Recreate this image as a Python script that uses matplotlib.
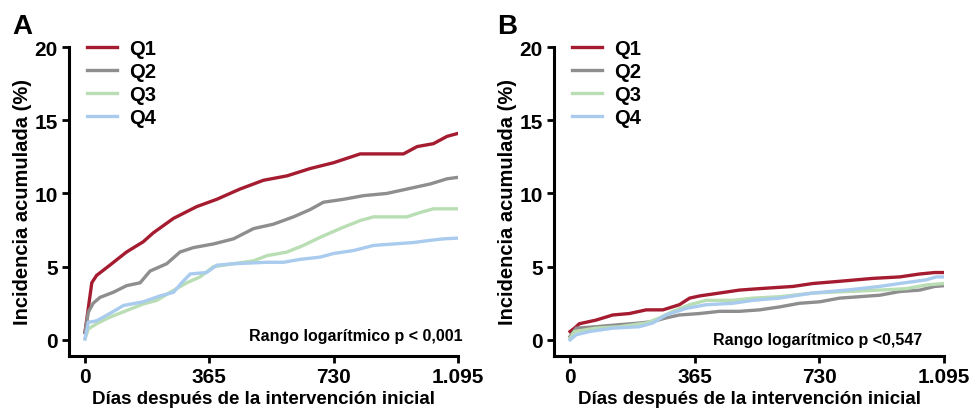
import matplotlib.pyplot as plt

plt.rcParams['font.family'] = ['Liberation Sans', 'DejaVu Sans']
plt.rcParams['font.weight'] = 'bold'

# =========================
# DATA
# =========================
groups = ["Q1", "Q2", "Q3", "Q4"]
colors = ["#a51c30", "#8e8e8e", "#b9deb4", "#a9cbee"]
xticks = [0, 365, 730, 1095]
xticklabels = ["0", "365", "730", "1.095"]
yticks = [0, 5, 10, 15, 20]

# Panel A
a_q1_days = [0, 20, 34, 73, 122, 171, 200, 260, 328, 387, 455, 524, 593, 661, 730, 808, 935, 975, 1023, 1063, 1095]
a_q1_vals = [0.5, 3.9, 4.4, 5.1, 6.0, 6.7, 7.3, 8.3, 9.1, 9.6, 10.3, 10.9, 11.2, 11.7, 12.1, 12.7, 12.7, 13.2, 13.4, 13.9, 14.1]
a_q2_days = [0, 10, 24, 44, 83, 122, 162, 191, 240, 279, 318, 377, 436, 495, 553, 612, 661, 700, 759, 818, 886, 945, 1014, 1063, 1095]
a_q2_vals = [0.5, 1.9, 2.5, 2.9, 3.25, 3.7, 3.9, 4.7, 5.2, 6.0, 6.3, 6.55, 6.9, 7.6, 7.9, 8.4, 8.9, 9.4, 9.6, 9.85, 10.0, 10.3, 10.65, 11.0, 11.1]
a_q3_days = [0, 10, 34, 73, 122, 171, 211, 250, 299, 338, 377, 436, 495, 534, 593, 641, 690, 749, 808, 847, 945, 984, 1023, 1095]
a_q3_vals = [0.07, 0.75, 1.1, 1.55, 2.0, 2.45, 2.7, 3.25, 3.9, 4.3, 5.0, 5.2, 5.4, 5.75, 6.0, 6.45, 7.0, 7.6, 8.15, 8.4, 8.4, 8.7, 8.95, 8.95]
a_q4_days = [0, 10, 34, 73, 113, 171, 220, 260, 284, 309, 357, 387, 436, 534, 583, 632, 690, 730, 788, 847, 906, 965, 1014, 1053, 1095]
a_q4_vals = [0.07, 1.2, 1.3, 1.8, 2.35, 2.6, 3.0, 3.25, 3.9, 4.5, 4.6, 5.1, 5.2, 5.3, 5.3, 5.5, 5.65, 5.9, 6.1, 6.45, 6.55, 6.65, 6.8, 6.9, 6.95]

# Panel B
b_q1_days = [0, 13, 27, 76, 125, 174, 223, 272, 320, 350, 379, 438, 496, 555, 653, 711, 789, 887, 965, 1024, 1068, 1095]
b_q1_vals = [0.57, 0.8, 1.1, 1.35, 1.7, 1.8, 2.05, 2.05, 2.4, 2.85, 3.0, 3.2, 3.4, 3.5, 3.65, 3.85, 4.0, 4.2, 4.3, 4.5, 4.6, 4.6]
b_q2_days = [0, 18, 76, 125, 203, 242, 281, 320, 379, 438, 496, 555, 613, 672, 731, 789, 848, 907, 965, 1024, 1068, 1095]
b_q2_vals = [0.23, 0.8, 0.9, 1.0, 1.15, 1.25, 1.5, 1.7, 1.8, 1.95, 1.95, 2.05, 2.25, 2.5, 2.6, 2.85, 2.95, 3.05, 3.3, 3.4, 3.65, 3.7]
b_q3_days = [0, 13, 76, 145, 223, 262, 301, 350, 399, 477, 535, 613, 711, 809, 907, 985, 1043, 1095]
b_q3_vals = [0.1, 0.57, 0.8, 0.9, 1.15, 1.5, 1.95, 2.4, 2.7, 2.7, 2.85, 2.95, 3.2, 3.3, 3.4, 3.5, 3.75, 3.85]
b_q4_days = [0, 18, 57, 125, 203, 242, 281, 340, 399, 477, 535, 613, 711, 809, 907, 965, 1043, 1072, 1095]
b_q4_vals = [0.0, 0.35, 0.57, 0.8, 0.9, 1.15, 1.7, 2.15, 2.4, 2.5, 2.7, 2.85, 3.2, 3.4, 3.65, 3.85, 4.1, 4.3, 4.3]

panels = [
    ("A", [(a_q1_days, a_q1_vals), (a_q2_days, a_q2_vals), (a_q3_days, a_q3_vals), (a_q4_days, a_q4_vals)],
     "Rango logarítmico p < 0,001", (1110, 0.3)),
    ("B", [(b_q1_days, b_q1_vals), (b_q2_days, b_q2_vals), (b_q3_days, b_q3_vals), (b_q4_days, b_q4_vals)],
     "Rango logarítmico p <0,547", (1030, 0.0)),
]

# =========================
# FIGURE
# =========================
fig = plt.figure(figsize=(9.74, 4.10), dpi=100)
ax_rects = [[0.0708, 0.1293, 0.3994, 0.7536], [0.5688, 0.1293, 0.4004, 0.7536]]

for rect, (letter, series, ptext, ppos) in zip(ax_rects, panels):
    ax = fig.add_axes(rect)
    for name, col, (d, v) in zip(groups, colors, series):
        ax.plot(d, v, color=col, linewidth=2.4, label=name, solid_joinstyle='miter')

    ax.set_xlim(-47, 1095)
    ax.set_ylim(-1.1, 20)
    ax.set_xticks(xticks)
    ax.set_xticklabels(xticklabels)
    ax.set_yticks(yticks)
    ax.spines['top'].set_visible(False)
    ax.spines['right'].set_visible(False)
    for s in ['left', 'bottom']:
        ax.spines[s].set_linewidth(2.2)
    ax.tick_params(width=2.0, length=5, labelsize=15, pad=3)
    for lab in ax.get_xticklabels() + ax.get_yticklabels():
        lab.set_fontweight('bold')

    ax.set_xlabel("Días después de la intervención inicial", fontsize=13.5, fontweight='bold', labelpad=3)
    ax.set_ylabel("Incidencia acumulada (%)", fontsize=14.5, fontweight='bold', labelpad=2)

    leg = ax.legend(loc='upper left', bbox_to_anchor=(0.0, 1.085), frameon=False,
                    fontsize=14.5, handlelength=1.5, handletextpad=0.6, labelspacing=0.2)
    for t in leg.get_texts():
        t.set_fontweight('bold')

    ax.text(ppos[0], ppos[1], ptext, ha='right', va='center',
            fontsize=11.5, fontweight='bold')
    fig.text(rect[0] - 0.058, 0.935, letter, fontsize=20, fontweight='bold', va='center')

fig.savefig("out.png", dpi=100)
